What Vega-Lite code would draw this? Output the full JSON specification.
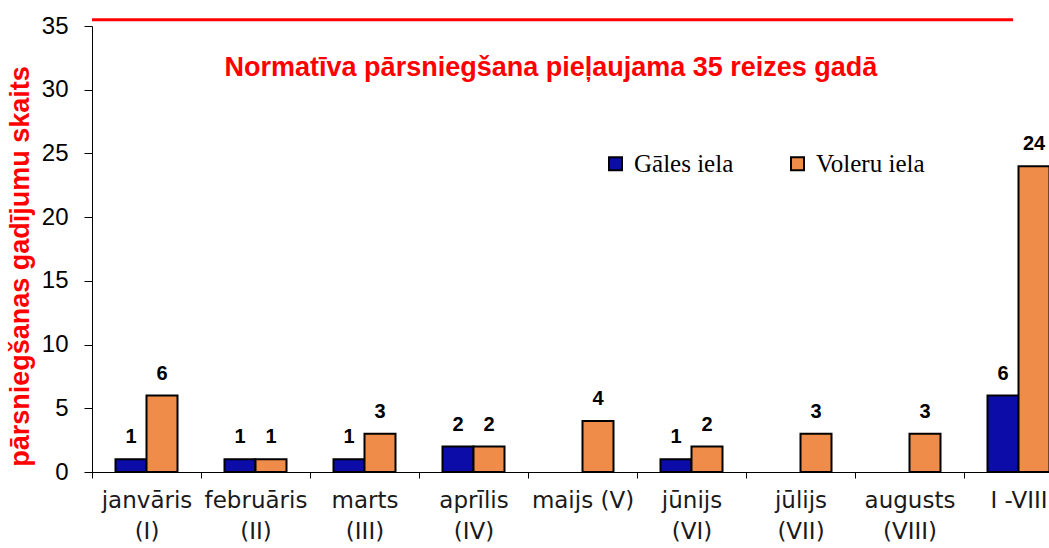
{
  "$schema": "https://vega.github.io/schema/vega-lite/v6.json",
  "width": 957,
  "height": 446,
  "autosize": {"type": "none"},
  "padding": {"left": 92, "top": 26, "right": 0, "bottom": 76},
  "background": "white",
  "config": {"view": {"stroke": null}, "font": "Liberation Sans"},
  "layer": [
    {
      "data": {
        "values": [
          {"month": "janvāris (I)", "street": "Gāles iela", "value": 1},
          {"month": "janvāris (I)", "street": "Voleru iela", "value": 6},
          {"month": "februāris (II)", "street": "Gāles iela", "value": 1},
          {"month": "februāris (II)", "street": "Voleru iela", "value": 1},
          {"month": "marts (III)", "street": "Gāles iela", "value": 1},
          {"month": "marts (III)", "street": "Voleru iela", "value": 3},
          {"month": "aprīlis (IV)", "street": "Gāles iela", "value": 2},
          {"month": "aprīlis (IV)", "street": "Voleru iela", "value": 2},
          {"month": "maijs (V)", "street": "Voleru iela", "value": 4},
          {"month": "jūnijs (VI)", "street": "Gāles iela", "value": 1},
          {"month": "jūnijs (VI)", "street": "Voleru iela", "value": 2},
          {"month": "jūlijs (VII)", "street": "Voleru iela", "value": 3},
          {"month": "augusts (VIII)", "street": "Voleru iela", "value": 3},
          {"month": "I -VIII", "street": "Gāles iela", "value": 6},
          {"month": "I -VIII", "street": "Voleru iela", "value": 24}
        ]
      },
      "encoding": {
        "x": {
          "field": "month",
          "type": "nominal",
          "sort": ["janvāris (I)", "februāris (II)", "marts (III)", "aprīlis (IV)", "maijs (V)", "jūnijs (VI)", "jūlijs (VII)", "augusts (VIII)", "I -VIII"],
          "scale": {"range": [0, 981], "paddingInner": 0, "paddingOuter": 0},
          "axis": {
            "title": null,
            "domainColor": "black",
            "tickColor": "black",
            "tickSize": 6,
            "tickBand": "extent",
            "labelAngle": 0,
            "labelFont": "DejaVu Sans",
            "labelFontSize": 23,
            "labelColor": "#1a1a1a",
            "labelPadding": 11,
            "labelLineHeight": 31,
            "labelBaseline": "top",
            "labelOverlap": false,
            "labelFlush": false,
            "labelLimit": 0,
            "labelExpr": "datum.label == 'maijs (V)' ? datum.label : split(replace(datum.label, ' (', '|('), '|')"
          }
        },
        "xOffset": {
          "field": "street",
          "type": "nominal",
          "scale": {"paddingInner": 0, "paddingOuter": 0.758}
        },
        "y": {
          "field": "value",
          "type": "quantitative",
          "scale": {"domain": [0, 35], "nice": false},
          "axis": {
            "title": "pārsniegšanas gadījumu skaits",
            "titleColor": "#FF0000",
            "titleFontSize": 27,
            "titleFontWeight": "bold",
            "titleX": -72,
            "titleY": 240,
            "titleAlign": "center",
            "titleBaseline": "middle",
            "values": [0, 5, 10, 15, 20, 25, 30, 35],
            "grid": false,
            "domainColor": "black",
            "tickColor": "black",
            "tickSize": 8,
            "labelFontSize": 24,
            "labelColor": "black",
            "labelPadding": 16
          }
        }
      },
      "layer": [
        {
          "mark": {"type": "bar", "stroke": "black", "strokeWidth": 2},
          "encoding": {
            "color": {
              "field": "street",
              "type": "nominal",
              "scale": {"domain": ["Gāles iela", "Voleru iela"], "range": ["#0C0CA8", "#EF8C4A"]},
              "legend": {
                "orient": "none",
                "legendX": 511,
                "legendY": 125,
                "direction": "horizontal",
                "title": null,
                "symbolType": "square",
                "symbolSize": 169,
                "symbolStrokeColor": "black",
                "symbolStrokeWidth": 2,
                "labelFont": "Liberation Serif",
                "labelFontSize": 25,
                "labelColor": "black",
                "labelOffset": 6,
                "columnPadding": 51,
                "padding": 0
              }
            }
          }
        },
        {
          "mark": {"type": "text", "fontWeight": "bold", "fontSize": 20, "baseline": "alphabetic", "align": "center", "dy": -16, "color": "black"},
          "encoding": {"text": {"field": "value", "type": "quantitative"}}
        }
      ]
    },
    {
      "data": {"values": [{}]},
      "mark": {"type": "rule", "color": "#FF0000", "strokeWidth": 3},
      "encoding": {
        "x": {"datum": 0, "type": "quantitative", "scale": {"domain": [0, 1]}, "axis": null},
        "x2": {"datum": 0.9624},
        "y": {"datum": 35.5, "type": "quantitative", "scale": {"domain": [0, 35], "nice": false}}
      }
    },
    {
      "data": {"values": [{}]},
      "mark": {"type": "text", "text": "Normatīva pārsniegšana pieļaujama 35 reizes gadā", "fontSize": 27, "fontWeight": "bold", "color": "#FF0000", "align": "center", "baseline": "middle"},
      "encoding": {
        "x": {"datum": 0.4796, "type": "quantitative", "scale": {"domain": [0, 1]}, "axis": null},
        "y": {"datum": 31.7, "type": "quantitative", "scale": {"domain": [0, 35], "nice": false}}
      }
    }
  ],
  "resolve": {"scale": {"x": "independent"}}
}
